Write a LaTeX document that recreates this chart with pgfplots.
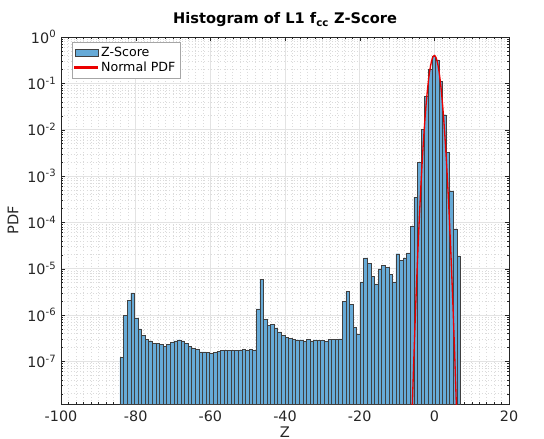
\documentclass[border=0pt]{standalone}
\usepackage{fontspec}
\setmainfont{DejaVu Sans}
\usepackage{pgfplots}
\pgfplotsset{compat=1.18}
\definecolor{histblue}{RGB}{102,170,215}
\definecolor{axgray}{RGB}{38,38,38}
\definecolor{pdfred}{RGB}{235,0,0}

\begin{document}
\begin{tikzpicture}
\begin{axis}[
    scale only axis,
    width=336bp, height=275.25bp,
    ymode=log,
    log origin y=infty,
    xmin=-100, xmax=20,
    ymin=1.2e-8, ymax=1,
    xtick={-100,-80,...,20},
    minor x tick num=9,
    /pgf/number format/assume math mode=true,
    log number format basis/.code 2 args={#1\textsuperscript{\pgfmathprintnumber{#2}}},
    tick label style={font=\fontsize{10.8}{12}\selectfont, color=axgray},
    xticklabel style={yshift=-1.5bp},
    major tick length=3bp,
    minor tick length=1.5bp,
    tick style={axgray},
    axis line style={axgray},
    xmajorgrids, ymajorgrids, xminorgrids, yminorgrids,
    major grid style={gray!22, line width=0.4pt},
    minor grid style={gray!28, dotted, line width=0.4pt},
    title={\textbf{Histogram of L1 f\textsubscript{cc} Z-Score}},
    title style={font=\fontsize{11}{13}\selectfont, yshift=-2bp},
    xlabel={Z},
    xlabel style={yshift=3bp},
    ylabel={PDF},
    label style={font=\fontsize{11}{13}\selectfont, color=axgray},
    legend cell align=left,
    legend style={at={(0.025,0.986)}, anchor=north west, draw=gray!70,
      font=\fontsize{9.5}{11}\selectfont, inner sep=1.5pt, row sep=-1pt},
  ]

  % histogram, bin left edges and pdf heights (last row closes the last bin)
  \addplot[ybar interval, fill=histblue, draw=black!75, line width=0.35pt, area legend]
  table {
    x y
    -84.20 1.2e-7
    -83.24 1.0e-6
    -82.28 2.1e-6
    -81.32 3.0e-6
    -80.36 8.7e-7
    -79.40 5.0e-7
    -78.44 3.6e-7
    -77.48 2.95e-7
    -76.52 2.76e-7
    -75.56 2.4e-7
    -74.60 2.4e-7
    -73.64 2.35e-7
    -72.68 2.1e-7
    -71.72 2.3e-7
    -70.76 2.55e-7
    -69.80 2.76e-7
    -68.84 2.9e-7
    -67.88 2.76e-7
    -66.92 2.4e-7
    -65.96 2.1e-7
    -65.00 1.9e-7
    -64.04 1.8e-7
    -63.08 1.6e-7
    -62.12 1.6e-7
    -61.16 1.55e-7
    -60.20 1.5e-7
    -59.24 1.55e-7
    -58.28 1.65e-7
    -57.32 1.7e-7
    -56.36 1.7e-7
    -55.40 1.7e-7
    -54.44 1.75e-7
    -53.48 1.75e-7
    -52.52 1.75e-7
    -51.56 1.8e-7
    -50.60 1.75e-7
    -49.64 1.8e-7
    -48.68 1.75e-7
    -47.72 1.35e-6
    -46.76 5.8e-6
    -45.80 8.0e-7
    -44.84 5.9e-7
    -43.88 6.3e-7
    -42.92 5.3e-7
    -41.96 4.3e-7
    -41.00 3.6e-7
    -40.04 3.3e-7
    -39.08 3.1e-7
    -38.12 2.95e-7
    -37.16 2.9e-7
    -36.20 2.9e-7
    -35.24 2.7e-7
    -34.28 2.95e-7
    -33.32 2.75e-7
    -32.36 2.9e-7
    -31.40 2.85e-7
    -30.44 2.8e-7
    -29.48 2.7e-7
    -28.52 3.0e-7
    -27.56 3.0e-7
    -26.60 3.0e-7
    -25.64 3.05e-7
    -24.68 2.0e-6
    -23.72 3.2e-6
    -22.76 1.7e-6
    -21.80 5.5e-7
    -20.84 3.9e-7
    -19.88 5.2e-6
    -18.92 1.7e-5
    -17.96 1.3e-5
    -17.00 6.8e-6
    -16.04 4.7e-6
    -15.08 9.9e-6
    -14.12 1.2e-5
    -13.16 1.05e-5
    -12.20 7.4e-6
    -11.24 5.2e-6
    -10.28 2.1e-5
    -9.32 1.5e-5
    -8.36 1.7e-5
    -7.40 2.2e-5
    -6.44 8.3e-5
    -5.48 3.5e-4
    -4.52 2.0e-3
    -3.56 0.0102
    -2.60 0.053
    -1.64 0.20
    -0.68 0.38
    0.28 0.32
    1.24 0.11
    2.20 0.021
    3.16 3.2e-3
    4.12 4.8e-4
    5.08 7.2e-5
    6.04 1.9e-5
    7.00 1.9e-5
  };
  \addlegendentry{Z-Score}

  % standard normal pdf, sampled
  \addplot[color=pdfred, line width=1pt,
    legend image code/.code={\fill[pdfred] (0bp,0bp) rectangle (17bp,0.9bp);}]
  coordinates {
    (-6.00,6.076e-9) (-5.75,2.639e-8) (-5.50,1.0769e-7) (-5.25,4.128e-7)
    (-5.00,1.4867e-6) (-4.75,5.030e-6) (-4.50,1.5984e-5) (-4.25,4.772e-5)
    (-4.00,1.3383e-4) (-3.75,3.526e-4) (-3.50,8.727e-4) (-3.25,2.029e-3)
    (-3.00,4.432e-3) (-2.75,9.093e-3) (-2.50,1.7528e-2) (-2.25,3.174e-2)
    (-2.00,5.399e-2) (-1.75,8.628e-2) (-1.50,0.12952) (-1.25,0.18265)
    (-1.00,0.24197) (-0.75,0.30114) (-0.50,0.35207) (-0.25,0.38667)
    (0.00,0.39894)
    (0.25,0.38667) (0.50,0.35207) (0.75,0.30114) (1.00,0.24197)
    (1.25,0.18265) (1.50,0.12952) (1.75,8.628e-2) (2.00,5.399e-2)
    (2.25,3.174e-2) (2.50,1.7528e-2) (2.75,9.093e-3) (3.00,4.432e-3)
    (3.25,2.029e-3) (3.50,8.727e-4) (3.75,3.526e-4) (4.00,1.3383e-4)
    (4.25,4.772e-5) (4.50,1.5984e-5) (4.75,5.030e-6) (5.00,1.4867e-6)
    (5.25,4.128e-7) (5.50,1.0769e-7) (5.75,2.639e-8) (6.00,6.076e-9)
  };
  \addlegendentry{Normal PDF}
\end{axis}
\pgfresetboundingbox
\path[use as bounding box] ([xshift=-45.75bp,yshift=-26.25bp]current axis.south west)
  rectangle ([xshift=26.25bp,yshift=27.75bp]current axis.north east);
\end{tikzpicture}
\end{document}
